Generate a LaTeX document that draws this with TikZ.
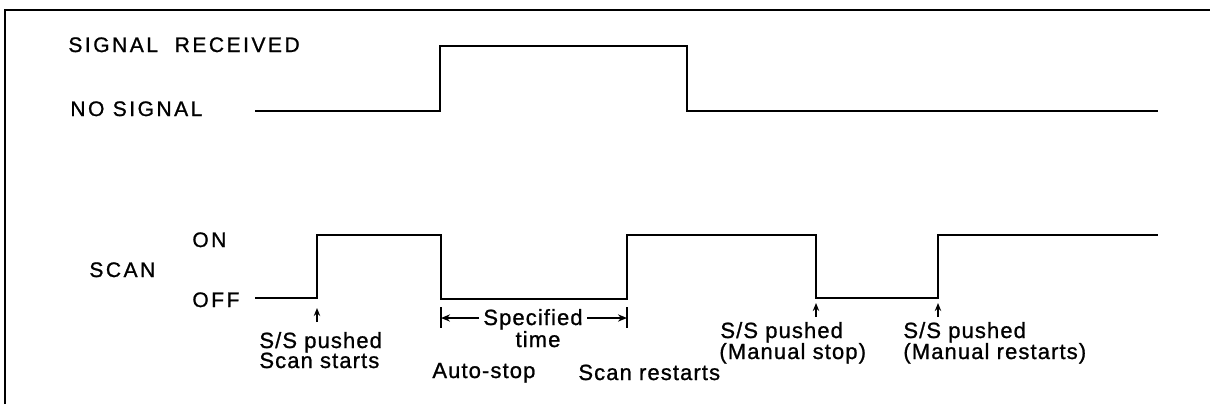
\documentclass[tikz,border=0pt]{standalone}
\usepackage{fontspec}
\setmainfont{Liberation Sans}
\newfontfamily\lblfont{Liberation Sans}[LetterSpace=5,FakeBold=1]
\newfontfamily\capfont{Liberation Sans}[LetterSpace=12,FakeBold=1]
\usetikzlibrary{arrows.meta}
\begin{document}
\begin{tikzpicture}[x=0.5pt,y=-0.5pt,
  frameline/.style={line width=1pt},
  wave/.style={line width=1.4pt, line join=miter},
  tickbar/.style={line width=1pt},
  lbltext/.style={inner sep=0pt, anchor=base west, font=\lblfont\fontsize{11}{12}\selectfont},
  capstext/.style={inner sep=0pt, anchor=base west, font=\capfont\fontsize{10.5}{12}\selectfont},
  pusharrow/.style={-{Stealth[length=4pt,width=3.2pt]}, line width=0.9pt},
  spanarrow/.style={-{Stealth[length=4.5pt,width=3.6pt]}, line width=0.9pt}]
\useasboundingbox (0,0) rectangle (1210,404);
\fill[white] (0,0) rectangle (1210,404);
% open frame (top and left edges)
\draw[frameline] (5,404) -- (5,10) -- (1210,10);

% level labels
\node[capstext] (sigrec) at (68,52) {SIGNAL\ \ RECEIVED};
\node[capstext] (nosig) at (70,116) {NO SIGNAL};
\node[capstext] (on) at (192,247) {ON};
\node[capstext] (scan) at (89,277) {SCAN};
\node[capstext] (off) at (192,307) {OFF};

% signal trace
\draw[wave] (255,111) -- (440,111) -- (440,46) -- (687,46) -- (687,111) -- (1158,111);

% scan trace
\draw[wave] (255,298) -- (317,298) -- (317,235) -- (441,235) -- (441,299)
  -- (627,299) -- (627,235) -- (816,235) -- (816,298) -- (938,298) -- (938,235) -- (1158,235);

% push arrows
\coordinate (p1s) at (317,322); \coordinate (p1e) at (317,308);
\coordinate (p2s) at (816,317); \coordinate (p2e) at (816,303);
\coordinate (p3s) at (938,317); \coordinate (p3e) at (938,303);
\draw[pusharrow] (p1s) -- (p1e);
\draw[pusharrow] (p2s) -- (p2e);
\draw[pusharrow] (p3s) -- (p3e);

% event labels
\node[lbltext] (ss1) at (259,348) {S/S pushed};
\node[lbltext] (st1) at (259,368) {Scan starts};
\node[lbltext] (ss2) at (720,338) {S/S pushed};
\node[lbltext] (ms) at (719,359) {(Manual stop)};
\node[lbltext] (ss3) at (903,338) {S/S pushed};
\node[lbltext] (mr) at (903,359) {(Manual restarts)};
\node[lbltext] (auto) at (432,378) {Auto-stop};
\node[lbltext] (scr) at (578,380) {Scan restarts};

% specified time span
\node[lbltext, anchor=base] (spec) at (533,325) {Specified};
\node[lbltext, anchor=base] (time) at (538,347) {time};
\coordinate (bt1) at (441,307); \coordinate (bb1) at (441,328);
\coordinate (bt2) at (627,307); \coordinate (bb2) at (627,328);
\draw[tickbar] (bt1) -- (bb1);
\draw[tickbar] (bt2) -- (bb2);
\coordinate (sl) at (479,318); \coordinate (sr) at (587,318);
\coordinate (bl) at (441,318); \coordinate (br) at (627,318);
\draw[spanarrow] (sl) -- (bl);
\draw[spanarrow] (sr) -- (br);
\end{tikzpicture}
\end{document}
